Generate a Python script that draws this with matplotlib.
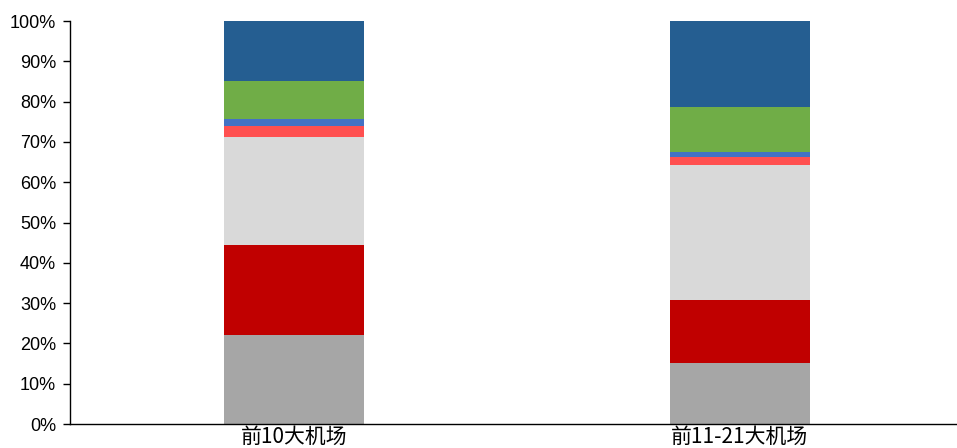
import numpy as np
import matplotlib.pyplot as plt
from matplotlib.ticker import PercentFormatter

plt.rcParams['font.family'] = ['Liberation Sans', 'DejaVu Sans']

# 两组机场的构成占比（%）
categories = ['前10大机场', '前11-21大机场']
part1 = [22.1, 15.1]
part2 = [22.3, 15.7]
part3 = [26.8, 33.5]
part4 = [2.7, 2.0]
part5 = [1.8, 1.2]
part6 = [9.4, 11.2]
part7 = [14.9, 21.3]

series = [part1, part2, part3, part4, part5, part6, part7]
colors = ['#A6A6A6', '#C00000', '#D9D9D9', '#FF5050', '#4472C4', '#70AD47', '#255E91']

fig = plt.figure(figsize=(9.57, 4.48), dpi=100)
ax = fig.add_axes([70 / 957, 24 / 448, 887 / 957, 403 / 448])

x = np.arange(len(categories))
bottom = np.zeros(len(categories))
for vals, c in zip(series, colors):
    ax.bar(x, vals, bottom=bottom, width=0.314, color=c, linewidth=0)
    bottom += np.array(vals)

ax.set_xlim(-0.502, 1.487)
ax.set_ylim(0, 100)
ax.set_yticks(np.arange(0, 101, 10))
ax.yaxis.set_major_formatter(PercentFormatter(decimals=0))
ax.tick_params(axis='y', direction='out', length=5, width=1, labelsize=13, pad=5)
ax.tick_params(axis='x', length=0, pad=1)
ax.set_xticks(x)
ax.set_xticklabels(categories, fontsize=15, family=['Noto Sans CJK SC', 'DejaVu Sans'])

for s in ['top', 'right']:
    ax.spines[s].set_visible(False)
ax.spines['left'].set_linewidth(1)
ax.spines['bottom'].set_linewidth(1)

fig.savefig('out.png', dpi=100)
